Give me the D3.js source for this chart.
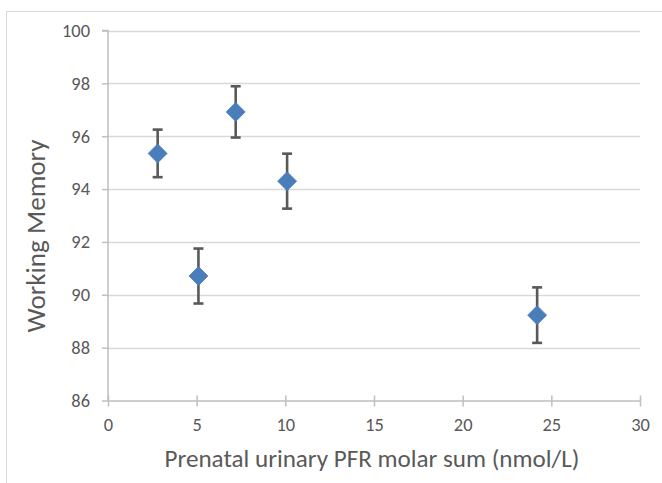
<!DOCTYPE html>
<html><head><meta charset="utf-8">
<script src="https://cdn.jsdelivr.net/npm/d3@7"></script>
<style>body{margin:0;background:#fff;}svg{display:block;font-family:Calibri,Carlito,"Open Sans","Liberation Sans",sans-serif;}</style>
</head><body>
<script>
const xValues = [2.8, 7.2, 5.1, 10.1, 24.2];
const yValues = [95.35, 96.92, 90.71, 94.3, 89.23];
const errValues = [0.9, 0.97, 1.04, 1.04, 1.05];
const xTicks = [0, 5, 10, 15, 20, 25, 30];
const yTicks = [86, 88, 90, 92, 94, 96, 98, 100];
const xTitle = "Prenatal urinary PFR molar sum (nmol/L)";
const yTitle = "Working Memory";

const W = 662, H = 483;
const svg = d3.select("body").append("svg").attr("width", W).attr("height", H);
// chart border
svg.append("rect").attr("x", 6.5).attr("y", 11.5).attr("width", W + 10).attr("height", H + 10)
  .attr("fill", "none").attr("stroke", "#d9d9d9").attr("stroke-width", 1);

const x = d3.scaleLinear().domain([0, 30]).range([108, 640]);
const y = d3.scaleLinear().domain([86, 100]).range([400.5, 30.5]);

// gridlines
svg.append("g").selectAll("line").data(yTicks.filter(t => t !== 86)).join("line")
  .attr("x1", x(0)).attr("x2", x(30)).attr("y1", d => Math.round(y(d)) + 0.5).attr("y2", d => Math.round(y(d)) + 0.5)
  .attr("stroke", "#d9d9d9").attr("stroke-width", 1.3);

// y axis
const yAxis = svg.append("g").attr("transform", `translate(${x(0)},0)`)
  .call(d3.axisLeft(y).tickValues(yTicks).tickSize(6).tickPadding(12).tickFormat(d3.format("d")));
// x axis
const xAxis = svg.append("g").attr("transform", `translate(0,${y(86)})`)
  .call(d3.axisBottom(x).tickValues(xTicks).tickSizeInner(6).tickSizeOuter(0).tickPadding(11).tickFormat(d3.format("d")));
xAxis.selectAll(".tick line").attr("y1", -5);
[yAxis, xAxis].forEach(a => {
  a.attr("font-size", null).attr("font-family", null);
  a.select(".domain").attr("stroke", "#bfbfbf").attr("stroke-width", 1.5);
  a.selectAll(".tick line").attr("stroke", "#bfbfbf").attr("stroke-width", 1.5);
  a.selectAll("text").attr("fill", "#595959").style("font-size", "16px");
});
yAxis.select(".domain").attr("d", `M-6,${y(100)}H0V${y(86)}`);
// size tick labels so "100" spans ~28px
const ref = yAxis.selectAll("text").filter(d => d === 100).node();
const tfs = 16 * 28 / ref.getComputedTextLength();
svg.selectAll(".tick text").style("font-size", tfs + "px");

// error bars
const data = xValues.map((v, i) => ({x: v, y: yValues[i], e: errValues[i]}));
const eb = svg.append("g").attr("stroke", "#595959").attr("stroke-width", 2.6);
eb.selectAll("line.v").data(data).join("line").attr("class", "v")
  .attr("x1", d => x(d.x)).attr("x2", d => x(d.x)).attr("y1", d => y(d.y + d.e)).attr("y2", d => y(d.y - d.e));
eb.selectAll("line.t").data(data).join("line").attr("class", "t")
  .attr("x1", d => x(d.x) - 5).attr("x2", d => x(d.x) + 5).attr("y1", d => y(d.y + d.e)).attr("y2", d => y(d.y + d.e));
eb.selectAll("line.b").data(data).join("line").attr("class", "b")
  .attr("x1", d => x(d.x) - 5).attr("x2", d => x(d.x) + 5).attr("y1", d => y(d.y - d.e)).attr("y2", d => y(d.y - d.e));

// markers
const r = 9.5;
svg.append("g").selectAll("path").data(data).join("path")
  .attr("d", d => `M${x(d.x)},${y(d.y) - r}L${x(d.x) + r},${y(d.y)}L${x(d.x)},${y(d.y) + r}L${x(d.x) - r},${y(d.y)}Z`)
  .attr("fill", "#4a7ebb").attr("stroke", "#4a7ebb").attr("stroke-width", 0.8);

// titles
function fit(t, target) {
  const len = t.node().getComputedTextLength();
  const fs = parseFloat(t.style("font-size"));
  t.style("font-size", (fs * target / len) + "px");
}
const xt = svg.append("text").attr("x", 372).attr("y", 467).attr("text-anchor", "middle")
  .attr("fill", "#595959").style("font-size", "20px").text(xTitle);
fit(xt, 415);
const yt = svg.append("text").attr("transform", "translate(45,236) rotate(-90)").attr("text-anchor", "middle")
  .attr("fill", "#595959").style("font-size", "20px").text(yTitle);
fit(yt, 193);
</script>
</body></html>
